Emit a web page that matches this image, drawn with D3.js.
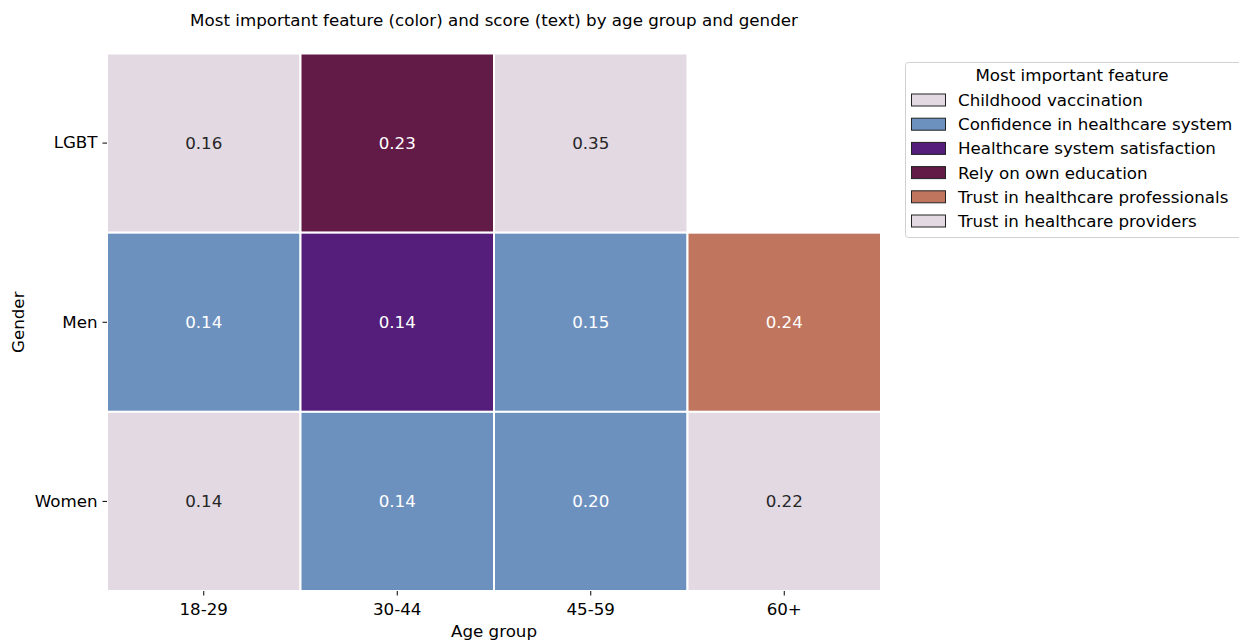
<!DOCTYPE html>
<html>
<head>
<meta charset="utf-8">
<script src="https://cdn.jsdelivr.net/npm/d3@7"></script>
<style>
  html, body { margin: 0; padding: 0; background: #fff; }
  svg text { font-family: "DejaVu Sans", sans-serif; }
</style>
</head>
<body>
<svg id="chart" width="1239" height="644"></svg>
<script>
// Age groups (columns) and gender groups (rows)
const ageGroups = ["18-29", "30-44", "45-59", "60+"];
const genders = ["LGBT", "Men", "Women"];

// Most important feature per cell (null = no data)
const featureLGBT  = ["Trust in healthcare providers", "Rely on own education", "Childhood vaccination", null];
const featureMen   = ["Confidence in healthcare system", "Healthcare system satisfaction", "Confidence in healthcare system", "Trust in healthcare professionals"];
const featureWomen = ["Trust in healthcare providers", "Confidence in healthcare system", "Confidence in healthcare system", "Childhood vaccination"];

// Score of the most important feature per cell
const scoreLGBT  = [0.16, 0.23, 0.35, null];
const scoreMen   = [0.14, 0.14, 0.15, 0.24];
const scoreWomen = [0.14, 0.14, 0.20, 0.22];

// Legend categories and their colours
const features = [
  "Childhood vaccination",
  "Confidence in healthcare system",
  "Healthcare system satisfaction",
  "Rely on own education",
  "Trust in healthcare professionals",
  "Trust in healthcare providers"
];
const featureColors = ["#e2d9e2", "#6d91bf", "#541e7a", "#621a47", "#c0755e", "#e2d9e2"];
const darkFeatures = ["Confidence in healthcare system", "Healthcare system satisfaction", "Rely on own education", "Trust in healthcare professionals"];

const featureRows = [featureLGBT, featureMen, featureWomen];
const scoreRows = [scoreLGBT, scoreMen, scoreWomen];

const cells = [];
genders.forEach((g, i) => {
  ageGroups.forEach((a, j) => {
    if (featureRows[i][j] != null) {
      cells.push({ gender: g, age: a, feature: featureRows[i][j], score: scoreRows[i][j] });
    }
  });
});

const FS = 16.7;
const svg = d3.select("#chart");
const plot = { left: 107, right: 881, top: 53.5, bottom: 591 };

const x = d3.scaleBand().domain(ageGroups).range([plot.left, plot.right]).padding(0);
const y = d3.scaleBand().domain(genders).range([plot.top, plot.bottom]).padding(0);
const color = d3.scaleOrdinal().domain(features).range(featureColors);

// Heatmap cells
svg.append("g").selectAll("rect")
  .data(cells)
  .join("rect")
  .attr("x", d => x(d.age))
  .attr("y", d => y(d.gender))
  .attr("width", x.bandwidth())
  .attr("height", y.bandwidth())
  .attr("fill", d => color(d.feature))
  .attr("stroke", "#fff")
  .attr("stroke-width", 2);

// Score annotations
svg.append("g").selectAll("text")
  .data(cells)
  .join("text")
  .attr("x", d => x(d.age) + x.bandwidth() / 2)
  .attr("y", d => y(d.gender) + y.bandwidth() / 2)
  .attr("text-anchor", "middle")
  .attr("dominant-baseline", "central")
  .attr("font-size", FS)
  .attr("fill", d => darkFeatures.includes(d.feature) ? "#ffffff" : "#262626")
  .text(d => d3.format(".2f")(d.score));

// Axes
const xAxis = svg.append("g")
  .attr("transform", `translate(0,${plot.bottom})`)
  .call(d3.axisBottom(x).tickSize(4.5).tickPadding(8));
const yAxis = svg.append("g")
  .attr("transform", `translate(${plot.left},0)`)
  .call(d3.axisLeft(y).tickSize(4.5).tickPadding(5));
[xAxis, yAxis].forEach(ax => {
  ax.select(".domain").remove();
  ax.selectAll(".tick line").attr("stroke", "#000").attr("stroke-width", 1);
  ax.selectAll(".tick text").attr("font-size", FS).attr("fill", "#000").attr("font-family", "DejaVu Sans, sans-serif");
});

// Axis titles
svg.append("text")
  .attr("x", (plot.left + plot.right) / 2)
  .attr("y", 637)
  .attr("text-anchor", "middle")
  .attr("font-size", FS)
  .text("Age group");
svg.append("text")
  .attr("transform", `translate(24,${(plot.top + plot.bottom) / 2}) rotate(-90)`)
  .attr("text-anchor", "middle")
  .attr("font-size", FS)
  .text("Gender");

// Chart title
svg.append("text")
  .attr("x", (plot.left + plot.right) / 2)
  .attr("y", 26)
  .attr("text-anchor", "middle")
  .attr("font-size", FS)
  .text("Most important feature (color) and score (text) by age group and gender");

// Legend
const legend = svg.append("g").attr("transform", "translate(905,62)");
legend.append("rect")
  .attr("x", 0.5).attr("y", 0.5)
  .attr("width", 345).attr("height", 175)
  .attr("rx", 3)
  .attr("fill", "#fff")
  .attr("stroke", "#d0d0d0");
legend.append("text")
  .attr("x", 167).attr("y", 19)
  .attr("text-anchor", "middle")
  .attr("font-size", FS)
  .text("Most important feature");
const items = legend.selectAll("g.item")
  .data(features)
  .join("g")
  .attr("class", "item")
  .attr("transform", (d, i) => `translate(6,${38 + i * 24.2})`);
items.append("rect")
  .attr("x", 0.5).attr("y", -6)
  .attr("width", 34).attr("height", 12)
  .attr("fill", d => color(d))
  .attr("stroke", "#222")
  .attr("stroke-width", 1);
items.append("text")
  .attr("x", 47).attr("y", 0)
  .attr("dominant-baseline", "central")
  .attr("font-size", FS)
  .text(d => d);
</script>
</body>
</html>
